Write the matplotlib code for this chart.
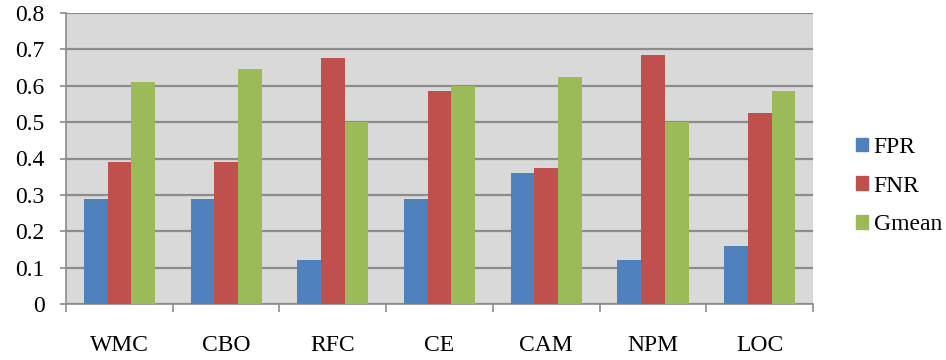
import numpy as np
import matplotlib
matplotlib.use('Agg')
import matplotlib.pyplot as plt
from matplotlib.patches import Patch

# metrics for each class-level measure
metrics = ['WMC', 'CBO', 'RFC', 'CE', 'CAM', 'NPM', 'LOC']
fpr = [0.29, 0.29, 0.12, 0.29, 0.36, 0.12, 0.16]
fnr = [0.39, 0.39, 0.675, 0.585, 0.375, 0.685, 0.525]
gmean = [0.61, 0.645, 0.50, 0.60, 0.625, 0.50, 0.585]

series = [('FPR', fpr, '#4F81BD'), ('FNR', fnr, '#C0504D'), ('Gmean', gmean, '#9BBB59')]

plt.rcParams['font.family'] = ['Liberation Serif', 'DejaVu Serif']

fig = plt.figure(figsize=(9.46, 3.6), dpi=100)
ax = fig.add_axes([66/946, 1 - 304/360, 747/946, 291/360])

x = np.arange(len(metrics))
width = 1.0 / 4.5   # three bars plus a 150% gap
for i, (name, vals, col) in enumerate(series):
    ax.bar(x + (i - 1) * width, vals, width, color=col, zorder=3)

ax.set_facecolor('#D9D9D9')
ax.set_xlim(-0.5, len(metrics) - 0.5)
ax.set_ylim(0, 0.8)
ax.set_yticks(np.arange(0, 0.81, 0.1))
ax.set_yticklabels(['0'] + ['%.1f' % v for v in np.arange(0.1, 0.81, 0.1)], fontsize=17)
ax.yaxis.grid(True, color='#8C8C8C', linewidth=1.6, zorder=0)

# category labels in the middle, tick marks on the group boundaries
ax.set_xticks(x)
ax.set_xticklabels(metrics, fontsize=17)
ax.tick_params(axis='x', length=0, pad=22)
ax.set_xticks(np.arange(-0.5, len(metrics)), minor=True)
ax.tick_params(axis='x', which='minor', length=5.8, width=1.2, color='#8C8C8C')
ax.tick_params(axis='y', length=4.3, width=1.2, color='#8C8C8C', pad=11)

for side in ['top', 'right']:
    ax.spines[side].set_visible(False)
ax.spines['left'].set_color('#8C8C8C')
ax.spines['left'].set_linewidth(1.2)
ax.spines['bottom'].set_color('#8C8C8C')
ax.spines['bottom'].set_linewidth(1.2)

handles = [Patch(color=col, label=name) for name, vals, col in series]
fig.legend(handles=handles, loc='center left', bbox_to_anchor=(856/946, 1 - 186/360),
           frameon=False, fontsize=17, handlelength=0.5, handleheight=0.5,
           handletextpad=0.25, labelspacing=0.75, borderpad=0, borderaxespad=0)

plt.savefig('out.png', dpi=100)
